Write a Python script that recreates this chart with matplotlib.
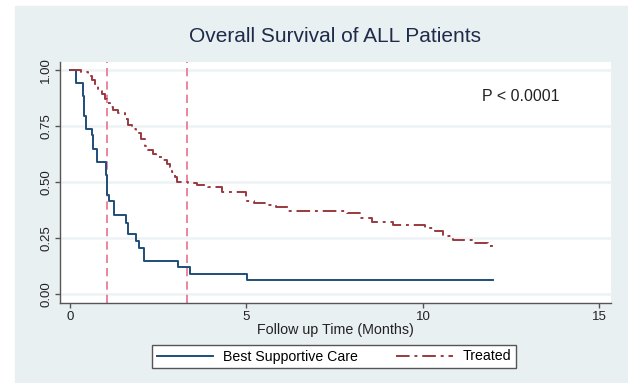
import numpy as np
import matplotlib
matplotlib.use("Agg")
import matplotlib.pyplot as plt
from matplotlib.patches import Rectangle

plt.rcParams["font.family"] = ["Liberation Sans", "DejaVu Sans"]

# ------------------------------------------------------------------
# Kaplan-Meier steps (time in months, survival)
# ------------------------------------------------------------------
bsc_time = [0.00, 0.17, 0.36, 0.40, 0.45, 0.61, 0.66, 0.77, 1.02, 1.05,
            1.11, 1.25, 1.60, 1.65, 1.87, 1.96, 2.09, 3.05, 3.40, 5.02, 12.0]
bsc_surv = [1.000, 0.941, 0.882, 0.794, 0.735, 0.706, 0.647, 0.588, 0.529, 0.441,
            0.412, 0.353, 0.314, 0.265, 0.235, 0.206, 0.147, 0.118, 0.088, 0.059, 0.059]

trt_time = [0.00, 0.30, 0.50, 0.62, 0.72, 0.80, 0.90, 0.98, 1.04, 1.13,
            1.23, 1.35, 1.55, 1.65, 1.75, 1.88, 2.00, 2.12, 2.22, 2.35,
            2.45, 2.60, 2.74, 2.83, 2.90, 2.97, 3.02, 3.35, 3.59, 3.90,
            4.30, 5.00, 5.20, 5.57, 5.85, 6.18, 7.84, 8.21, 8.55, 9.16,
            10.06, 10.34, 10.58, 10.86, 11.47, 11.85, 12.02]
trt_surv = [1.000, 0.990, 0.970, 0.955, 0.930, 0.910, 0.890, 0.870, 0.850, 0.835,
            0.820, 0.805, 0.780, 0.755, 0.735, 0.715, 0.690, 0.660, 0.640, 0.625,
            0.610, 0.595, 0.580, 0.565, 0.545, 0.520, 0.500, 0.492, 0.485, 0.475,
            0.455, 0.415, 0.403, 0.398, 0.388, 0.369, 0.360, 0.340, 0.318, 0.308,
            0.293, 0.278, 0.256, 0.241, 0.226, 0.211, 0.211]

ref_lines = [1.05, 3.31]          # vertical dashed markers (months)
x_ticks = [0, 5, 10, 15]
y_ticks = [0.00, 0.25, 0.50, 0.75, 1.00]

BG = "#e9f0f2"
NAVY = "#1f4e79"
MAROON = "#9a3a3f"
PINK = "#e8728f"

fig = plt.figure(figsize=(6.28, 3.83), dpi=100, facecolor="white")
# light graph region (white strip on top and left, like the source)
fig.patches.append(Rectangle((15 / 628, 0), 1, 1 - 6 / 383,
                             transform=fig.transFigure, color=BG, zorder=-10))

ax = fig.add_axes([60 / 628, 1 - 303 / 383, 551 / 628, 241 / 383])
ax.set_facecolor("white")

for y in y_ticks:
    ax.axhline(y, color="#edf3f5", lw=1.8, zorder=0)
for x in ref_lines:
    ax.axvline(x, color=PINK, lw=1.2, ls=(0, (5, 3)), zorder=1)

ax.step(bsc_time, bsc_surv, where="post", color=NAVY, lw=1.4,
        label="Best Supportive Care", zorder=3)
ax.step(trt_time, trt_surv, where="post", color=MAROON, lw=1.4,
        ls=(0, (7, 2.5, 1.5, 2.5)), label="Treated", zorder=3)

ax.set_xlim(-0.283, 15.33)
ax.set_ylim(-0.0415, 1.034)
ax.set_xticks(x_ticks)
ax.set_yticks(y_ticks)
ax.set_yticklabels([f"{v:.2f}" for v in y_ticks], rotation=90, va="center")
ax.tick_params(axis="both", colors="#555555", labelcolor="#222222",
               labelsize=9.5, length=3.5, width=1, pad=2)
for s in ["top", "right"]:
    ax.spines[s].set_visible(False)
for s in ["left", "bottom"]:
    ax.spines[s].set_color("#555555")
    ax.spines[s].set_linewidth(1)

ax.set_xlabel("Follow up Time (Months)", fontsize=10.3, color="#222222", labelpad=0)
ax.text(11.67, 0.878, "P < 0.0001", fontsize=11.5, color="#222222", va="center")

fig.text(335 / 628, 1 - 37 / 383, "Overall Survival of ALL Patients",
         fontsize=15, color="#1e2b4a", ha="center", va="center")

leg = fig.legend(loc="center", bbox_to_anchor=(334 / 628, 1 - 356.5 / 383),
                 ncol=2, fontsize=10.2, frameon=True, fancybox=False,
                 edgecolor="#555555", framealpha=1, handlelength=4.0,
                 handletextpad=0.7, columnspacing=2.7, borderpad=0.35)
leg.get_frame().set_linewidth(1)

fig.savefig("out.png", dpi=100, facecolor=fig.get_facecolor())
